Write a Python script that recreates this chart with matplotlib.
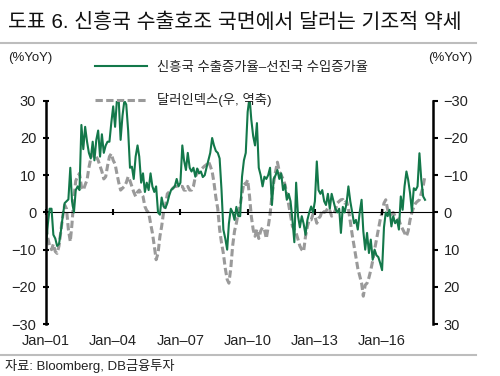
import matplotlib
matplotlib.use('Agg')
import matplotlib.pyplot as plt
import pandas as pd
from matplotlib.lines import Line2D

# ---------------- data ----------------
title = '도표 6. 신흥국 수출호조 국면에서 달러는 기조적 약세'
source = '자료: Bloomberg, DB금융투자'
label_em = '신흥국 수출증가율–선진국 수입증가율'
label_dxy = '달러인덱스(우, 역축)'
start_month = '2001-01-01'

# EM export growth minus DM import growth (%YoY), monthly 2001-01 .. 2017-12
em_2001 = [-9, -3, 1, 1, -6, -7, -9, -8.5, -5, -1, 2.5, 3]
em_2002 = [3.5, 12, 3, 0, 6, 7, 6, 23.5, 17, 23, 19, 16]
em_2003 = [14.5, 19, 14, 19.5, 22, 15, 21, 16, 18, 19, 19, 24]
em_2004 = [28.5, 23, 30, 30, 19.5, 26, 30, 29, 22, 12, 12.3, 9]
em_2005 = [15, 18, 15, 8, 10.5, 5.5, 8, 6, 10.5, 7, 5.5, 7]
em_2006 = [0, -0.6, 4, 1.6, 1.2, 2.5, 4.5, 6, 6.5, 7, 9, 7]
em_2007 = [8, 18, 14, 11.4, 16, 12, 11, 12, 9.6, 11.8, 10.5, 11]
em_2008 = [9.5, 10, 12, 14, 16, 20, 18, 16.5, 16, 14.5, 6, -4.6]
em_2009 = [-7, -10, -3, 1, 0, -2, 1.5, -1, -1, 9.6, 14, 16]
em_2010 = [27, 31, 25, 20.5, 18, 24, 12, 10, 7, 9.6, 9, 10]
em_2011 = [12, 2, 9, 10, 11.4, 9, 10.5, 6, 7.5, 3.4, 5, 3]
em_2012 = [-2, -8, 8, -1, -4, -1, -3, -6, -2, 0, 1.6, 0]
em_2013 = [3, 13.7, 6, 5, 6, 3, 2, 5, 1, 5, 3, 1]
em_2014 = [0, 1, -5.5, 1.5, 0, 2.5, 7, 3, 0, -2.9, -2, -4.6]
em_2015 = [0, 3.4, -5, -10, -5.5, -10.9, -7.3, -12.7, -10, -11.5, -12, -13.6]
em_2016 = [-15.5, -4, 0, -1, 0.7, -3.75, -1, -2.9, -2, -4.6, 4.3, 0.7]
em_2017 = [7, 11, 8.8, 5.2, 0.3, 6.5, 6, 7, 15.9, 8.8, 4.3, 3.4]

# Dollar index (%YoY), plotted on the inverted right axis
dxy_2001 = [4, 7, 9, 10, 8.5, 10.5, 11, 9, 5, 1, -2, -1]
dxy_2002 = [4.6, 7.8, 3, -4, -8.5, -9.6, -10.5, -7, -6, -7.4, -8.75, -12]
dxy_2003 = [-14.5, -16, -16, -15, -14, -12.5, -11, -9, -9.6, -12.5, -15, -15.8]
dxy_2004 = [-14, -13, -10.5, -8, -6, -6.5, -7, -8, -9.6, -8.5, -7, -5.5]
dxy_2005 = [-4.3, -5.5, -6, -5, -4.3, -1.6, -0.5, 0, 2.9, 5.5, 9, 12.7]
dxy_2006 = [11, 6.4, 3.75, 0, -1.6, -5, -5.5, -6, -6.5, -7, -7, -7]
dxy_2007 = [-7, -7, -6, -6, -7, -6, -6, -7, -9.6, -10.5, -11.4, -11.5]
dxy_2008 = [-12, -12.5, -12.8, -13.7, -12.5, -11, -8, -4, -1, 4.6, 8.2, 11]
dxy_2009 = [15, 18, 19, 15, 9, 5, 2.9, 0, -2, -5, -8, -7.5]
dxy_2010 = [-8.75, -4.3, 1, 4.6, 6.4, 4.5, 7, 5, 4, 4.6, 7, 4]
dxy_2011 = [0.5, -4.5, -8, -11, -13.5, -11, -10, -9, -7.5, -5, -2, 1]
dxy_2012 = [3.75, 4.6, 5.5, 7.3, 9, 10, 10.5, 6.4, 3.75, 2, 2, 0.5]
dxy_2013 = [1, 2.9, 1.6, 1, -0.7, 0, -0.3, -1.2, -0.5, 1, 0.6, -0.7]
dxy_2014 = [-2.5, -3, -3.4, -3.5, -2.5, -3, -1, 2.5, 6, 9, 12, 15]
dxy_2015 = [17, 19, 22.5, 19.5, 19, 17.5, 15.5, 13, 10, 7.3, 4.6, 2]
dxy_2016 = [0, -2.5, -3.4, -0.7, 0, 0.5, 0, 1, 1.5, 2, 3.5, 4.5]
dxy_2017 = [5.5, 6.4, 5, 2, 0, -1.5, -2.5, -3, -3.4, -5.2, -7, -10]

xtick_dates = ['2001-01-01', '2004-01-01', '2007-01-01', '2010-01-01', '2013-01-01', '2016-01-01']
xtick_labels = ['Jan–01', 'Jan–04', 'Jan–07', 'Jan–10', 'Jan–13', 'Jan–16']
yticks = [-30, -20, -10, 0, 10, 20, 30]

em = (em_2001 + em_2002 + em_2003 + em_2004 + em_2005 + em_2006 + em_2007 + em_2008 +
      em_2009 + em_2010 + em_2011 + em_2012 + em_2013 + em_2014 + em_2015 + em_2016 + em_2017)
dxy = (dxy_2001 + dxy_2002 + dxy_2003 + dxy_2004 + dxy_2005 + dxy_2006 + dxy_2007 + dxy_2008 +
       dxy_2009 + dxy_2010 + dxy_2011 + dxy_2012 + dxy_2013 + dxy_2014 + dxy_2015 + dxy_2016 + dxy_2017)
dates = pd.date_range(start_month, periods=len(em), freq='MS')

# ---------------- style ----------------
plt.rcParams['font.family'] = ['Liberation Sans', 'Noto Sans CJK KR']
plt.rcParams['axes.unicode_minus'] = True

GREEN = '#13784a'
GRAY = '#9a9a9a'
TXT = '#222222'

fig = plt.figure(figsize=(5, 3.76), dpi=100)
ax = fig.add_axes([0.092, 0.138, 0.774, 0.594])
ax2 = ax.twinx()

ax2.plot(dates, dxy, color=GRAY, lw=2.2, ls=(0, (2.4, 1.1)))
ax.plot(dates, em, color=GREEN, lw=1.5)

ax.set_zorder(ax2.get_zorder() + 1)
ax.patch.set_visible(False)

ax.set_ylim(-30, 30)
ax2.set_ylim(30, -30)
ax.set_xlim(dates[0], pd.Timestamp('2018-04-10'))

ax.set_yticks(yticks)
ax2.set_yticks(yticks)

for s in ['top', 'right', 'bottom']:
    ax.spines[s].set_visible(False)
for s in ['top', 'left', 'bottom']:
    ax2.spines[s].set_visible(False)
ax.spines['left'].set_linewidth(1.8)
ax2.spines['right'].set_linewidth(1.8)

ax.tick_params(axis='y', direction='inout', length=4, width=1.5, labelsize=10.5,
               pad=5, labelcolor=TXT)
ax2.tick_params(axis='y', direction='out', length=3.5, width=1.5, labelsize=10.5,
                pad=4, labelcolor=TXT)

xt = pd.to_datetime(xtick_dates)
ax.set_xticks(xt)
ax.set_xticklabels(xtick_labels)
ax.tick_params(axis='x', length=0, pad=7, labelsize=10.5, labelcolor=TXT)

sec = ax.secondary_xaxis(0.5)
sec.set_xticks(xt)
sec.set_xticklabels([''] * len(xt))
sec.tick_params(axis='x', direction='inout', length=5, width=1.5)
sec.spines['bottom'].set_linewidth(1.8)

handles = [Line2D([], [], color=GREEN, lw=1.5),
           Line2D([], [], color=GRAY, lw=2.2, ls=(0, (2.4, 1.1)))]
leg = ax.legend(handles, [label_em, label_dxy], loc='upper left',
                bbox_to_anchor=(0.19, 0.836), bbox_transform=fig.transFigure,
                frameon=False, fontsize=9.6, handlelength=3.9, handletextpad=0.75,
                labelspacing=1.45, borderpad=0, borderaxespad=0)
for t in leg.get_texts():
    t.set_color(TXT)

fig.text(0.016, 0.941, title, fontsize=14.8, va='center', ha='left', color='#111111')
fig.add_artist(Line2D([0, 0.952], [0.886, 0.886], transform=fig.transFigure,
                      color='#bdbdbd', lw=1.5))
fig.add_artist(Line2D([0, 0.952], [0.056, 0.056], transform=fig.transFigure,
                      color='#bdbdbd', lw=1.5))
fig.text(0.016, 0.846, '(%YoY)', fontsize=9.5, va='center', ha='left', color=TXT)
fig.text(0.856, 0.846, '(%YoY)', fontsize=9.5, va='center', ha='left', color=TXT)
fig.text(0.01, 0.027, source, fontsize=9.5, va='center', ha='left', color=TXT)

fig.savefig('out.png', dpi=100)
